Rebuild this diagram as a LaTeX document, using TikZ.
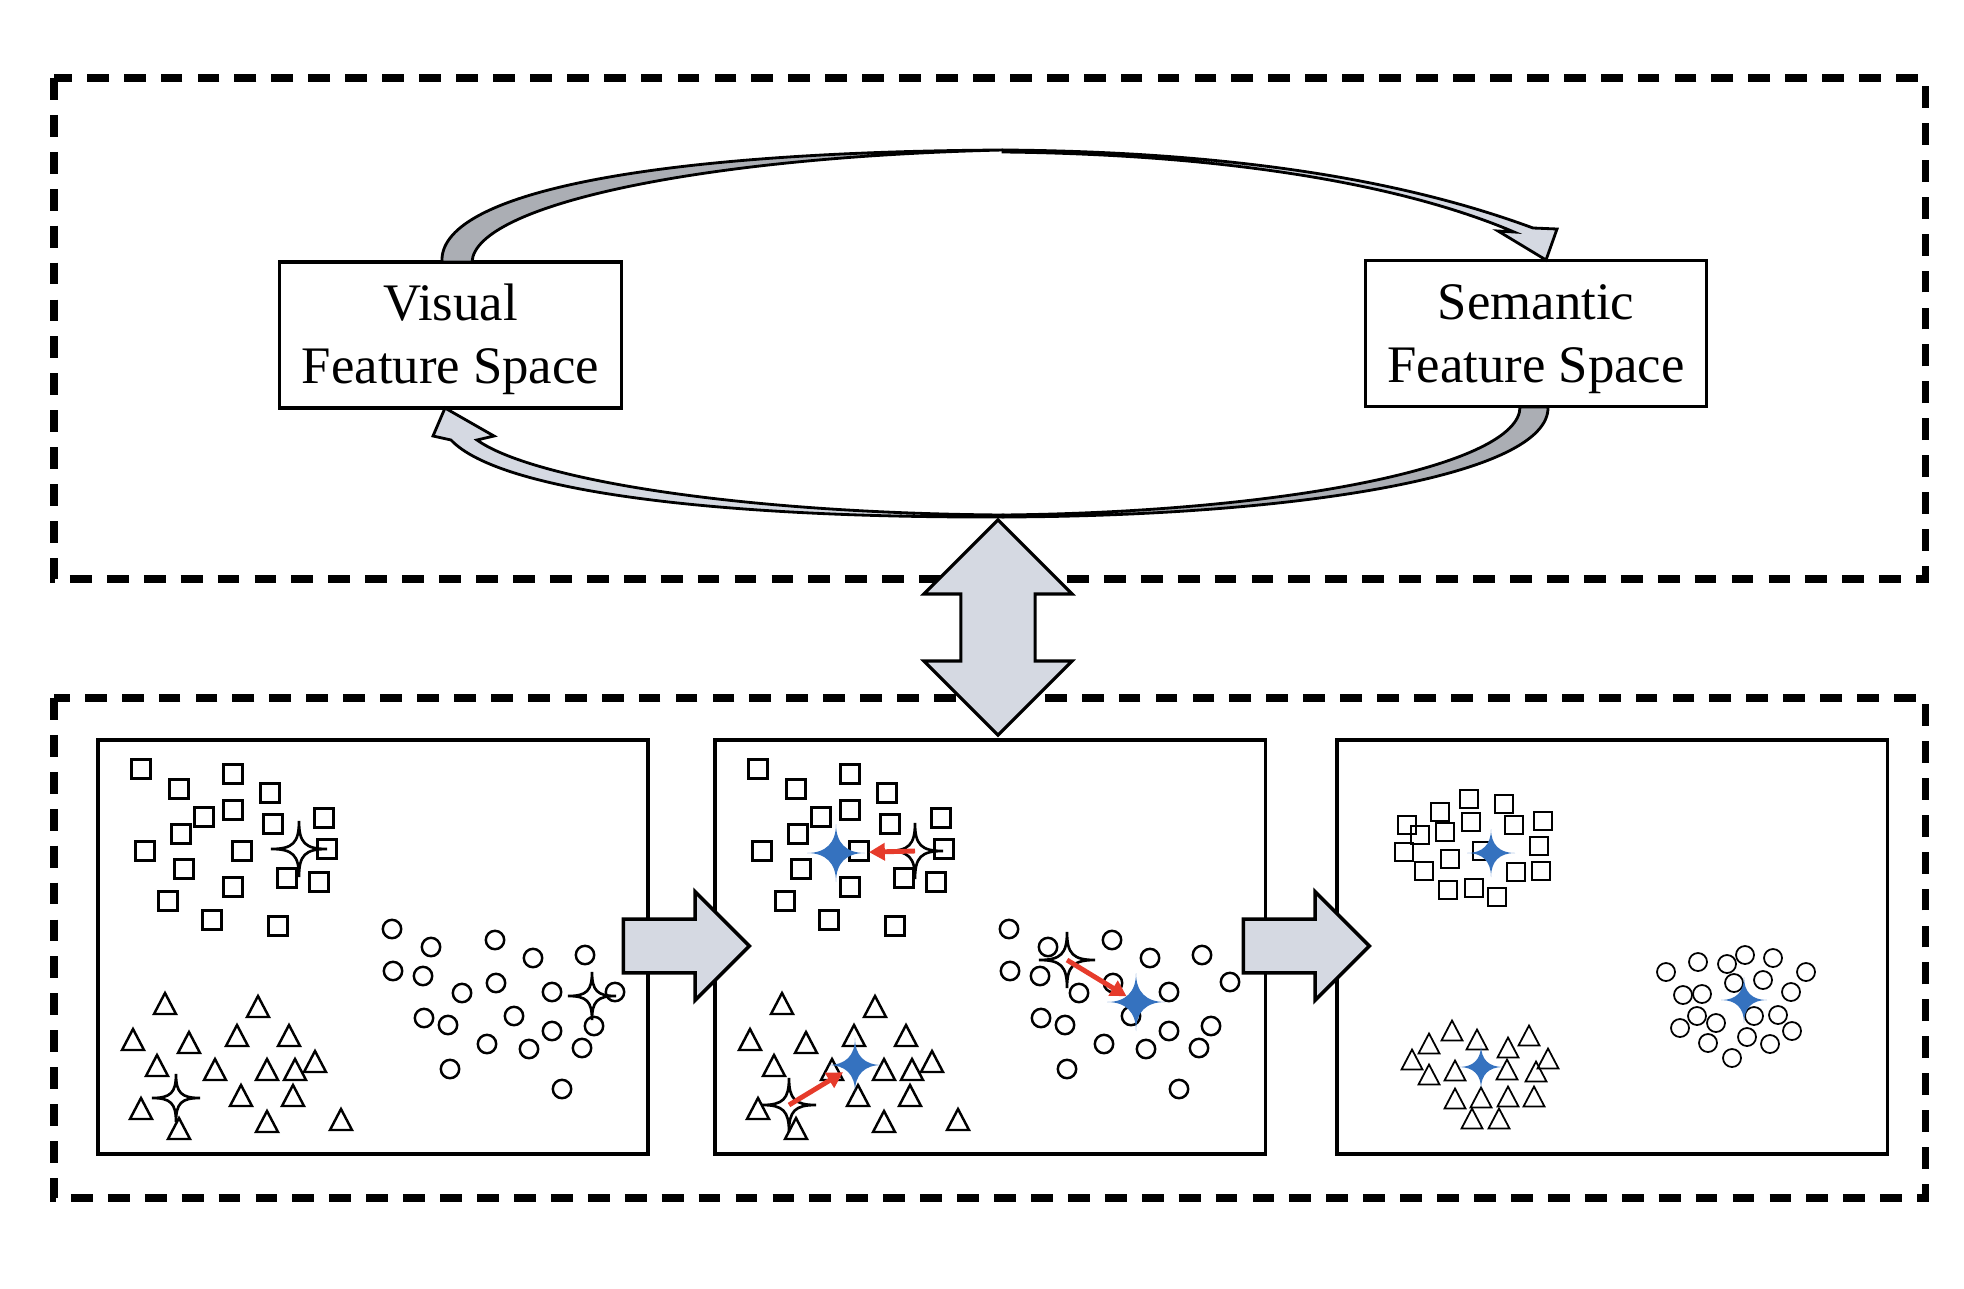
\documentclass[tikz,border=0pt]{standalone}
\usepackage{fontspec}
\setmainfont{Liberation Serif}
\usetikzlibrary{arrows.meta,shapes.arrows}

\definecolor{panefill}{HTML}{D5D9E2}
\definecolor{bandgray}{HTML}{ABAEB4}
\definecolor{starblue}{HTML}{3572BF}
\definecolor{shiftred}{HTML}{E63B2B}

% cluster points, local to a panel (squares, circles, triangles)
\newcommand{\sqpts}{43/29,81/49,135/34,172/53,106/77,135/70,175/84,226/78,83/94,47/111,144/111,229/109,86/129,189/138,221/142,135/147,70/161,114/180,180/186}
\newcommand{\cipts}{294/189,333/207,397/200,435/218,487/215,295/231,325/236,398/243,364/253,454/252,326/278,350/285,416/276,454/291,496/286,389/304,431/309,484/308,352/329,464/349}
\newcommand{\trpts}{67/264,160/267,35/300,91/303,139/296,191/296,59/326,117/330,169/330,197/330,217/322,143/356,195/356,43/369,81/389,169/382,243/380}
% the tight clusters of the last panel
\newcommand{\sqptsC}{132/59,103/72,167/64,70/85,134/82,177/85,206/81,83/95,108/92,67/112,145/111,202/106,113/119,87/131,179/132,204/131,111/150,137/148,160/157}
\newcommand{\ciptsC}{329/232,361/222,390/224,408/215,436/218,469/232,397/243,426/240,346/255,365/254,454/252,360/276,379/283,417/276,441/275,343/288,455/291,371/303,410/297,433/304,395/318}
\newcommand{\trptsC}{115/291,92/304,140/300,192/296,171/308,75/320,211/319,92/335,118/331,170/330,199/332,118/359,144/358,171/357,197/357,135/379,162/379}

\tikzset{
  pics/sparkle/.style 2 args={code={
    \path[pic actions] (0,-#1) .. controls (0,-#2*#1) and (#2*#1,0) .. (#1,0)
      .. controls (#2*#1,0) and (0,#2*#1) .. (0,#1)
      .. controls (0,#2*#1) and (-#2*#1,0) .. (-#1,0)
      .. controls (-#2*#1,0) and (0,-#2*#1) .. (0,-#1) -- cycle;}},
  groupbox/.style={draw, dash pattern=on 6.2pt off 4.3pt, line width=2pt},
  spacebox/.style={draw, line width=0.9pt, minimum width=3.41cm, minimum height=1.46cm,
    align=center, inner sep=0pt, font=\fontsize{15}{18}\selectfont},
  pane/.style={draw, line width=0.95pt, minimum width=5.5cm, minimum height=4.14cm, inner sep=0pt},
  flowarrow/.style={single arrow, draw, fill=panefill, line width=1pt, inner xsep=0pt, inner ysep=0.25cm,
    minimum height=1.26cm, single arrow head extend=0.275cm},
  linkarrow/.style={double arrow, draw, fill=panefill, line width=0.9pt, inner xsep=0pt, inner ysep=0.355cm,
    rotate=90, minimum height=2.15cm, double arrow head extend=0.37cm},
  band/.style={draw, line width=0.8pt},
  dot/.style={draw, line width=0.7pt},
  thindot/.style={draw, line width=0.5pt},
  hollowstar/.style={draw, fill=white, line width=0.75pt},
  bluestar/.style={fill=starblue},
  shiftarrow/.style={draw=shiftred, line width=1.4pt, -{Triangle[length=4.5pt,width=4.8pt]}},
}

\begin{document}
\begin{tikzpicture}[x=0.01cm, y=-0.01cm]
  \useasboundingbox (0,0) rectangle (1964,1288);

  \draw[groupbox] (54,78) rectangle (1925,579);
  \draw[groupbox] (54,698) rectangle (1925,1198);

  \node[pane] (p1) at (373,947) {};
  \node[pane] (p2) at (990,947) {};
  \node[pane] (p3) at (1612,947) {};

  % raw clusters
  \begin{scope}[shift={(98,740)}]
    \foreach \a/\b in \sqpts \draw[dot] (\a-9.3,\b-9.3) rectangle ++(18.6,18.6);
    \foreach \a/\b in \cipts \draw[dot] (\a,\b) circle[radius=9.2];
    \draw[dot] (517,252) circle[radius=9.2];
    \foreach \a/\b in \trpts \draw[dot] (\a,\b-11) -- (\a+11,\b+10) -- (\a-11,\b+10) -- cycle;
    \pic[hollowstar] at (201,109) {sparkle={28}{0.22}};
    \pic[hollowstar] at (494,256) {sparkle={24}{0.22}};
    \pic[hollowstar] at (78,358) {sparkle={24}{0.22}};
  \end{scope}

  % stars pulled towards the prototypes
  \begin{scope}[shift={(715,740)}]
    \foreach \a/\b in \sqpts \draw[dot] (\a-9.3,\b-9.3) rectangle ++(18.6,18.6);
    \foreach \a/\b in \cipts \draw[dot] (\a,\b) circle[radius=9.2];
    \draw[dot] (515,242) circle[radius=9.2];
    \foreach \a/\b in \trpts \draw[dot] (\a,\b-11) -- (\a+11,\b+10) -- (\a-11,\b+10) -- cycle;
    \coordinate (hq) at (200,111); \coordinate (bq) at (121,113);
    \coordinate (hc) at (352,220); \coordinate (bc) at (421,262);
    \coordinate (ht) at (74,365);  \coordinate (bt) at (140,325);
    \pic[hollowstar] at (hq) {sparkle={28}{0.22}};
    \pic[hollowstar] at (hc) {sparkle={28}{0.22}};
    \pic[hollowstar] at (ht) {sparkle={27}{0.22}};
    \pic[bluestar] at (bq) {sparkle={29}{0.35}};
    \pic[bluestar] at (bc) {sparkle={29}{0.35}};
    \pic[bluestar] at (bt) {sparkle={27}{0.35}};
    \draw[shiftarrow, shorten >=0.33cm] (hq) -- (bq);
    \draw[shiftarrow, shorten >=0.11cm] (hc) -- (bc);
    \draw[shiftarrow, shorten >=0.14cm] (ht) -- (bt);
  \end{scope}

  % compact clusters
  \begin{scope}[shift={(1337,740)}]
    \foreach \a/\b in \sqptsC \draw[thindot] (\a-8.7,\b-8.7) rectangle ++(17.4,17.4);
    \foreach \a/\b in \ciptsC \draw[thindot] (\a,\b) circle[radius=9];
    \foreach \a/\b in \trptsC \draw[thindot] (\a,\b-10.5) -- (\a+10.5,\b+9.5) -- (\a-10.5,\b+9.5) -- cycle;
    \pic[bluestar] at (154,113) {sparkle={24}{0.35}};
    \pic[bluestar] at (407,260) {sparkle={23}{0.35}};
    \pic[bluestar] at (144,327) {sparkle={22}{0.35}};
  \end{scope}

  \node[flowarrow] (step1) at (673,946) {};
  \node[flowarrow] (step2) at (1293,946) {};

  \node[spacebox] (visual) at (450.5,335) {\rule{0pt}{13pt}Visual\\Feature Space};
  \node[spacebox] (semantic) at (1536,333.5) {\rule{0pt}{13pt}Semantic\\Feature Space};

  % visual -> semantic
  \filldraw[band, fill=bandgray] (442,262) .. controls (438,195) and (640,152) .. (1003,150)
    .. controls (700,157) and (475,205) .. (472,262) -- cycle;
  \filldraw[band, fill=panefill] (1003,150) .. controls (1270,152) and (1430,190) .. (1533,228)
    -- (1557,229) -- (1546,260) -- (1498,231) -- (1514,232)
    .. controls (1425,194) and (1265,155) .. (1003,152) -- cycle;
  % semantic -> visual
  \filldraw[band, fill=bandgray] (1548,407) .. controls (1550,475) and (1300,516) .. (1003,517)
    -- (1003,515) .. controls (1290,512) and (1520,465) .. (1520,407) -- cycle;
  \filldraw[band, fill=panefill] (1003,517) .. controls (720,518) and (500,492) .. (451,440)
    -- (433,436) -- (445,408) -- (494,436) -- (477,440)
    .. controls (530,478) and (730,513) .. (1003,515) -- cycle;

  \node[linkarrow] (link) at (998,627.5) {};
\end{tikzpicture}
\end{document}
